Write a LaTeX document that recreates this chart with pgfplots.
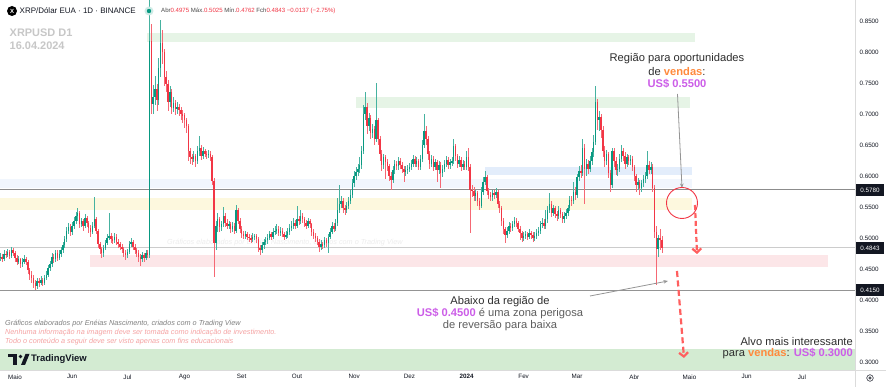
\documentclass[border=0pt]{standalone}
\usepackage{pgfplots}
\pgfplotsset{compat=1.18}
\usepackage{pgfplotstable}
\usepackage{fontspec}
\setmainfont{Liberation Sans}
\usetikzlibrary{arrows.meta}
\definecolor{upc}{HTML}{089981}
\definecolor{dnc}{HTML}{F23645}
\definecolor{tvdark}{HTML}{131722}
\definecolor{lblgray}{HTML}{4A4A4A}
\definecolor{orng}{HTML}{FF8A3D}
\definecolor{viol}{HTML}{CC5DE8}
\definecolor{txt}{HTML}{2E2E2E}
\definecolor{txtb}{HTML}{5E5E5E}
\definecolor{zgreen}{HTML}{E6F4E6}
\definecolor{zgreenb}{HTML}{D3EBD2}
\definecolor{zblue}{HTML}{E3EDFB}
\definecolor{zbluel}{HTML}{F1F6FD}
\definecolor{zyellow}{HTML}{FDF8DE}
\definecolor{zpink}{HTML}{FCE6E8}
\definecolor{disc}{HTML}{F5A3A3}
\definecolor{arred}{HTML}{FF5F5F}

\pgfplotstableread{
d o h l c
-8 .468 .476 .463 .470
-7 .470 .474 .461 .466
-6 .466 .480 .463 .475
-5 .475 .479 .467 .472
-4 .472 .483 .469 .478
-3 .478 .481 .466 .471
-2 .471 .486 .468 .480
-1 .480 .484 .471 .476
0 .476 .479 .462 .468
1 .468 .472 .456 .462
2 .462 .471 .458 .466
3 .466 .468 .452 .458
4 .458 .467 .454 .462
5 .462 .472 .458 .466
6 .466 .470 .456 .462
7 .462 .465 .442 .448
8 .448 .452 .432 .440
9 .440 .446 .428 .436
10 .436 .440 .420 .428
11 .428 .432 .416 .422
12 .422 .436 .417 .430
13 .430 .435 .421 .428
14 .428 .438 .424 .432
15 .432 .436 .422 .428
16 .428 .441 .425 .436
17 .436 .446 .432 .440
18 .440 .457 .437 .452
19 .452 .463 .447 .458
20 .458 .476 .454 .470
21 .470 .474 .460 .466
22 .466 .481 .462 .476
23 .476 .480 .463 .468
24 .468 .480 .464 .474
25 .474 .486 .470 .480
26 .480 .494 .476 .488
27 .488 .504 .484 .498
28 .498 .518 .494 .512
29 .512 .525 .506 .518
30 .518 .522 .504 .510
31 .510 .526 .505 .520
32 .520 .534 .515 .528
33 .528 .542 .522 .535
34 .535 .548 .528 .540
35 .540 .543 .516 .522
36 .522 .533 .517 .528
37 .528 .531 .512 .520
38 .520 .538 .516 .532
39 .532 .536 .518 .524
40 .524 .528 .508 .516
41 .516 .521 .502 .510
42 .510 .526 .506 .520
43 .520 .566 .516 .530
44 .530 .534 .506 .512
45 .512 .515 .484 .490
46 .490 .494 .474 .482
47 .482 .486 .468 .476
48 .476 .489 .470 .484
49 .484 .497 .480 .492
50 .492 .506 .488 .500
51 .500 .540 .496 .504
52 .504 .508 .492 .498
53 .498 .503 .490 .496
54 .496 .508 .492 .502
55 .502 .506 .488 .494
56 .494 .498 .484 .490
57 .490 .494 .480 .486
58 .486 .490 .476 .482
59 .482 .486 .470 .476
60 .476 .480 .465 .472
61 .472 .483 .468 .478
62 .478 .495 .474 .490
63 .490 .500 .486 .494
64 .494 .497 .480 .486
65 .486 .490 .474 .480
66 .480 .484 .470 .476
67 .476 .480 .462 .470
68 .470 .474 .455 .466
69 .466 .477 .462 .472
70 .472 .476 .462 .468
71 .468 .481 .464 .476
72 .476 .480 .467 .472
73 .472 .950 .468 .818
74 .818 .845 .700 .716
75 .716 .746 .700 .728
76 .728 .762 .715 .740
77 .740 .748 .705 .722
78 .722 .790 .715 .775
79 .775 .852 .760 .815
80 .815 .835 .780 .800
81 .800 .805 .745 .760
82 .760 .770 .735 .748
83 .748 .755 .705 .720
84 .720 .745 .712 .735
85 .735 .740 .700 .710
86 .710 .728 .703 .718
87 .718 .722 .698 .708
88 .708 .720 .700 .712
89 .712 .716 .696 .706
90 .706 .712 .690 .700
91 .700 .706 .685 .698
92 .698 .702 .678 .690
93 .690 .694 .670 .680
94 .680 .684 .625 .640
95 .640 .645 .620 .630
96 .630 .636 .618 .628
97 .628 .640 .622 .632
98 .632 .636 .615 .625
99 .625 .648 .620 .640
100 .640 .665 .632 .645
101 .645 .650 .626 .632
102 .632 .646 .628 .640
103 .640 .644 .630 .636
104 .636 .641 .628 .634
105 .634 .642 .629 .636
106 .636 .640 .624 .630
107 .630 .634 .585 .592
108 .592 .596 .437 .492
109 .492 .528 .480 .520
110 .520 .540 .510 .530
111 .530 .534 .510 .518
112 .518 .528 .512 .522
113 .522 .550 .518 .535
114 .535 .540 .518 .525
115 .525 .530 .514 .520
116 .520 .528 .514 .522
117 .522 .526 .508 .515
118 .515 .526 .509 .520
119 .520 .524 .506 .512
120 .512 .553 .508 .545
121 .545 .548 .522 .528
122 .528 .532 .508 .515
123 .515 .519 .500 .506
124 .506 .511 .498 .504
125 .504 .512 .499 .506
126 .506 .510 .496 .502
127 .502 .507 .494 .500
128 .500 .505 .492 .498
129 .498 .508 .493 .502
130 .502 .507 .496 .503
131 .503 .506 .492 .498
132 .498 .502 .478 .484
133 .484 .488 .472 .480
134 .480 .493 .476 .488
135 .488 .499 .483 .494
136 .494 .502 .489 .496
137 .496 .506 .491 .500
138 .500 .512 .496 .506
139 .506 .510 .497 .502
140 .502 .516 .498 .510
141 .510 .519 .505 .512
142 .512 .522 .507 .515
143 .515 .519 .503 .508
144 .508 .517 .503 .512
145 .512 .516 .501 .506
146 .506 .510 .497 .502
147 .502 .511 .498 .505
148 .505 .516 .500 .510
149 .510 .522 .505 .516
150 .516 .527 .511 .520
151 .520 .532 .515 .525
152 .525 .529 .514 .520
153 .520 .552 .516 .530
154 .530 .536 .521 .528
155 .528 .545 .522 .536
156 .536 .540 .524 .530
157 .530 .534 .518 .524
158 .524 .529 .514 .520
159 .520 .533 .516 .528
160 .528 .531 .516 .522
161 .522 .525 .504 .510
162 .510 .514 .498 .504
163 .504 .508 .494 .500
164 .500 .504 .488 .494
165 .494 .498 .478 .486
166 .486 .496 .481 .490
167 .490 .494 .482 .488
168 .488 .501 .484 .496
169 .496 .500 .486 .492
170 .492 .507 .476 .502
171 .502 .516 .498 .510
172 .510 .526 .506 .520
173 .520 .524 .509 .515
174 .515 .530 .511 .524
175 .524 .565 .520 .545
176 .545 .585 .540 .555
177 .555 .568 .548 .560
178 .560 .564 .540 .548
179 .548 .553 .537 .545
180 .545 .558 .540 .552
181 .552 .566 .547 .560
182 .560 .577 .555 .570
183 .570 .595 .565 .588
184 .588 .608 .582 .600
185 .600 .614 .594 .606
186 .606 .620 .600 .612
187 .612 .630 .605 .618
188 .618 .648 .612 .640
189 .640 .715 .635 .700
190 .700 .735 .690 .712
191 .712 .718 .668 .680
192 .680 .702 .672 .694
193 .694 .698 .660 .670
194 .670 .684 .662 .676
195 .676 .680 .650 .660
196 .660 .750 .655 .690
197 .690 .694 .650 .660
198 .660 .664 .625 .636
199 .636 .642 .608 .618
200 .618 .636 .612 .630
201 .630 .634 .595 .622
202 .622 .628 .608 .616
203 .616 .620 .592 .600
204 .600 .606 .578 .594
205 .594 .616 .588 .610
206 .610 .626 .604 .620
207 .620 .625 .609 .616
208 .616 .631 .610 .625
209 .625 .629 .612 .618
210 .618 .622 .605 .612
211 .612 .616 .590 .606
212 .606 .616 .600 .610
213 .610 .618 .604 .612
214 .612 .621 .606 .615
215 .615 .626 .609 .620
216 .620 .634 .614 .628
217 .628 .632 .614 .620
218 .620 .631 .614 .625
219 .625 .628 .609 .615
220 .615 .634 .610 .628
221 .628 .658 .622 .650
222 .650 .700 .645 .672
223 .672 .680 .650 .660
224 .660 .664 .626 .635
225 .635 .640 .612 .620
226 .620 .634 .614 .628
227 .628 .632 .608 .615
228 .615 .628 .609 .622
229 .622 .626 .590 .610
230 .610 .624 .603 .618
231 .618 .622 .580 .605
232 .605 .618 .598 .612
233 .612 .626 .606 .620
234 .620 .632 .614 .626
235 .626 .630 .612 .618
236 .618 .628 .612 .622
237 .622 .630 .616 .624
238 .624 .660 .620 .648
239 .648 .652 .625 .632
240 .632 .636 .613 .620
241 .620 .632 .614 .626
242 .626 .630 .608 .614
243 .614 .626 .609 .620
244 .620 .624 .609 .615
245 .615 .640 .610 .630
246 .630 .645 .608 .615
247 .615 .620 .508 .578
248 .578 .586 .566 .576
249 .576 .582 .560 .568
250 .568 .578 .560 .572
251 .572 .576 .552 .560
252 .560 .565 .545 .552
253 .552 .582 .548 .575
254 .575 .598 .570 .590
255 .590 .608 .585 .598
256 .598 .602 .570 .576
257 .576 .580 .563 .570
258 .570 .575 .560 .566
259 .566 .578 .560 .572
260 .572 .577 .563 .570
261 .570 .581 .565 .575
262 .575 .578 .548 .555
263 .555 .560 .540 .548
264 .548 .552 .520 .528
265 .528 .532 .506 .514
266 .514 .518 .492 .505
267 .505 .518 .500 .512
268 .512 .526 .506 .520
269 .520 .524 .510 .516
270 .516 .528 .511 .522
271 .522 .534 .517 .528
272 .528 .532 .518 .524
273 .524 .528 .509 .515
274 .515 .519 .496 .508
275 .508 .512 .494 .500
276 .500 .510 .495 .504
277 .504 .512 .499 .506
278 .506 .510 .496 .502
279 .502 .514 .498 .508
280 .508 .512 .499 .505
281 .505 .509 .494 .500
282 .500 .509 .495 .504
283 .504 .514 .499 .508
284 .508 .518 .503 .512
285 .512 .528 .507 .522
286 .522 .532 .516 .525
287 .525 .530 .514 .520
288 .520 .545 .515 .530
289 .530 .552 .525 .545
290 .545 .572 .540 .555
291 .555 .560 .534 .540
292 .540 .554 .535 .548
293 .548 .552 .532 .538
294 .538 .544 .528 .535
295 .535 .551 .530 .545
296 .545 .549 .532 .538
297 .538 .542 .524 .530
298 .530 .542 .525 .536
299 .536 .546 .530 .540
300 .540 .554 .535 .548
301 .548 .568 .543 .562
302 .562 .568 .552 .560
303 .560 .590 .555 .575
304 .575 .582 .562 .570
305 .570 .604 .565 .598
306 .598 .616 .592 .608
307 .608 .618 .596 .605
308 .605 .660 .600 .645
309 .645 .652 .555 .612
310 .612 .628 .600 .620
311 .620 .626 .604 .612
312 .612 .632 .606 .625
313 .625 .645 .618 .638
314 .638 .666 .630 .655
315 .655 .745 .650 .720
316 .720 .725 .675 .690
317 .690 .705 .672 .695
318 .695 .700 .662 .675
319 .675 .680 .630 .640
320 .640 .648 .615 .625
321 .625 .642 .618 .635
322 .635 .638 .596 .605
323 .605 .610 .575 .585
324 .585 .645 .580 .640
325 .640 .645 .615 .625
326 .625 .630 .602 .610
327 .610 .620 .600 .612
328 .612 .635 .606 .628
329 .628 .650 .622 .640
330 .640 .645 .625 .632
331 .632 .638 .612 .620
332 .620 .636 .614 .630
333 .630 .634 .618 .625
334 .625 .634 .618 .628
335 .628 .632 .608 .615
336 .615 .618 .592 .600
337 .600 .604 .575 .585
338 .585 .596 .578 .590
339 .590 .594 .570 .580
340 .580 .594 .574 .588
341 .588 .601 .582 .595
342 .595 .606 .588 .600
343 .600 .640 .595 .618
344 .618 .624 .603 .610
345 .610 .622 .604 .615
346 .615 .620 .575 .580
347 .580 .585 .500 .510
348 .510 .520 .425 .482
349 .482 .505 .470 .500
350 .500 .515 .480 .4975
351 .4975 .5025 .4762 .4843
}\candles

\begin{document}
\begin{tikzpicture}
\useasboundingbox (0bp,0bp) rectangle (886bp,387bp);
\fill[white] (0bp,0bp) rectangle (886bp,387bp);
\begin{axis}[
  at={(0bp,17bp)}, anchor=south west,
  width=855bp, height=370bp, scale only axis,
  xmin=-8.14, xmax=455.8, ymin=0.2871, ymax=0.8839,
  axis x line*=bottom, axis y line*=right,
  axis line style={draw=black!14, line width=0.7bp},
  major tick length=0pt,
  /pgf/number format/assume math mode=true,
  xtick={0,31,61,92,123,153,184,214,245,276,305,336,366,397,427},
  xticklabels={Maio,Jun,Jul,Ago,Set,Out,Nov,Dez,\textbf{2024},Fev,Mar,Abr,Maio,Jun,Jul},
  xticklabel style={font=\fontsize{6.3}{7}\selectfont, text=tvdark, yshift=-1bp},
  ytick={0.30,0.35,0.40,0.45,0.50,0.55,0.60,0.65,0.70,0.75,0.80,0.85},
  yticklabel style={/pgf/number format/.cd, fixed, fixed zerofill, precision=4, /tikz/.cd, font=\fontsize{6.3}{7}\selectfont, text=tvdark, anchor=west, xshift=1bp},
  clip=true,
  candle/.style={draw=none, mark=none, forget plot},
]
% zones
\fill[zgreenb] (axis cs:-8.14,0.2871) rectangle (axis cs:455.8,0.321);
\fill[zgreen] (axis cs:71.6,0.816) rectangle (axis cs:369,0.831);
\fill[zgreen] (axis cs:185,0.710) rectangle (axis cs:366,0.727);
\fill[zbluel] (axis cs:-8.14,0.581) rectangle (axis cs:367.3,0.595);
\fill[zblue] (axis cs:255,0.602) rectangle (axis cs:367.3,0.615);
\fill[zyellow] (axis cs:-8.14,0.545) rectangle (axis cs:367.3,0.565);
\fill[zpink] (axis cs:40.7,0.453) rectangle (axis cs:441,0.473);
\node[anchor=west, font=\itshape\fontsize{7.3}{8}\selectfont, text=black!7, inner sep=0] at (axis cs:82.5,0.492) {Gráficos elaborados por Enéias Nascimento, criados com o Trading View};
% horizontal lines
\draw[black!45, line width=0.9bp] (axis cs:-8.14,0.578) -- (axis cs:455.8,0.578);
\draw[black!20, line width=0.9bp] (axis cs:-8.14,0.4843) -- (axis cs:455.8,0.4843);
\draw[black!42, line width=0.9bp] (axis cs:-8.14,0.415) -- (axis cs:455.8,0.415);
% wicks
\addplot[candle, restrict expr to domain={\thisrow{c}-\thisrow{o}}{0:1},
  error bars/.cd, y dir=both, y explicit, error mark=none,
  error bar style={draw=upc!75, line width=0.55bp}]
  table[x=d, y expr={(\thisrow{h}+\thisrow{l})/2}, y error expr={(\thisrow{h}-\thisrow{l})/2}] {\candles};
\addplot[candle, restrict expr to domain={\thisrow{o}-\thisrow{c}}{0.000001:1},
  error bars/.cd, y dir=both, y explicit, error mark=none,
  error bar style={draw=dnc!75, line width=0.55bp}]
  table[x=d, y expr={(\thisrow{h}+\thisrow{l})/2}, y error expr={(\thisrow{h}-\thisrow{l})/2}] {\candles};
% bodies
\addplot[candle, restrict expr to domain={\thisrow{c}-\thisrow{o}}{0:1},
  error bars/.cd, y dir=both, y explicit, error mark=none,
  error bar style={draw=upc, line width=1.45bp}]
  table[x=d, y expr={(\thisrow{o}+\thisrow{c})/2}, y error expr={abs(\thisrow{c}-\thisrow{o})/2}] {\candles};
\addplot[candle, restrict expr to domain={\thisrow{o}-\thisrow{c}}{0.000001:1},
  error bars/.cd, y dir=both, y explicit, error mark=none,
  error bar style={draw=dnc, line width=1.45bp}]
  table[x=d, y expr={(\thisrow{o}+\thisrow{c})/2}, y error expr={abs(\thisrow{c}-\thisrow{o})/2}] {\candles};
\end{axis}

\begin{scope}[shift={(0bp,387bp)}, x=1bp, y=-1bp]
% axis extras
\draw[black!14, line width=0.7bp] (855,370) -- (855,387);
\draw[black!14, line width=0.7bp] (855,370) -- (886,370);
\draw[tvdark, line width=0.5bp] (870,378) circle (3.3);
\draw[tvdark, line width=0.5bp] (870,378) circle (1.3);
% price boxes
\foreach \yy/\tt in {190/0.5780, 248/0.4843, 290/0.4150}{
  \fill[tvdark] (856,\yy-5.8) rectangle (884,\yy+5.8);
  \node[font=\fontsize{6.3}{7}\selectfont, text=white, inner sep=0] at (870,\yy) {\tt};
}
% header
\fill[black] (12,11) circle (5);
\node[font=\bfseries\fontsize{6}{6}\selectfont, text=white, inner sep=0] at (12,11) {X};
\node[anchor=west, font=\fontsize{8}{9}\selectfont, text=tvdark, inner sep=0] at (19.5,11) {XRP/Dólar EUA · 1D · BINANCE};
\fill[upc!20] (149,11) circle (4.5);
\fill[upc] (149,11) circle (2.2);
\node[anchor=west, font=\fontsize{6.1}{7}\selectfont, inner sep=0] at (161,11) {\textcolor{lblgray}{Abr}\textcolor{dnc}{0.4975} \textcolor{lblgray}{Máx.}\textcolor{dnc}{0.5025} \textcolor{lblgray}{Mín.}\textcolor{dnc}{0.4762} \textcolor{lblgray}{Fch}\textcolor{dnc}{0.4843 −0.0137 (−2.75\%)}};
\node[anchor=west, font=\bfseries\fontsize{11}{12}\selectfont, text=black!22, inner sep=0] at (9.5,33) {XRPUSD D1};
\node[anchor=west, font=\bfseries\fontsize{11}{12}\selectfont, text=black!22, inner sep=0] at (9.5,46) {16.04.2024};
% annotations top right
\node[font=\fontsize{11.2}{12}\selectfont, text=txt, inner sep=0] at (677,59) {Região para oportunidades};
\node[font=\fontsize{11.2}{12}\selectfont, text=txt, inner sep=0] at (677,72) {de \textbf{\textcolor{orng}{vendas}}:};
\node[font=\bfseries\fontsize{11.2}{12}\selectfont, text=viol, inner sep=0] at (677,84) {US\$ 0.5500};
\draw[black!42, line width=0.8bp, -{Stealth[length=4.5bp,width=3.5bp]}] (677.5,94) -- (682,188);
% circle and red arrows
\draw[dnc, line width=0.9bp] (682,203) circle (15.5);
\draw[arred, line width=2.2bp, dash pattern=on 5bp off 3bp, -{Straight Barb[length=4bp,width=9bp]}] (695,205) -- (697,254);
\draw[arred, line width=2.2bp, dash pattern=on 6bp off 3.5bp, -{Straight Barb[length=4bp,width=9bp]}] (677,271) -- (684,358);
% lower annotation
\draw[black!42, line width=0.8bp, -{Stealth[length=4.5bp,width=3.5bp]}] (590,296) -- (668,281);
\node[font=\fontsize{11.2}{12}\selectfont, text=txt, inner sep=0] at (500,302) {Abaixo da região de};
\node[font=\fontsize{11.2}{12}\selectfont, text=txtb, inner sep=0] at (500,314) {\textbf{\textcolor{viol}{US\$ 0.4500}} é uma zona perigosa};
\node[font=\fontsize{11.2}{12}\selectfont, text=txtb, inner sep=0] at (500,326) {de reversão para baixa};
% target annotation
\node[anchor=east, font=\fontsize{11.2}{12}\selectfont, text=txt, inner sep=0] at (853,342) {Alvo mais interessante};
\node[anchor=east, font=\fontsize{11.2}{12}\selectfont, text=txt, inner sep=0] at (853,354) {para \textbf{\textcolor{orng}{vendas}}: \textbf{\textcolor{viol}{US\$ 0.3000}}};
% disclaimer
\node[anchor=west, font=\itshape\fontsize{7.3}{8}\selectfont, text=black!50, inner sep=0] at (5,324) {Gráficos elaborados por Enéias Nascimento, criados com o Trading View};
\node[anchor=west, font=\itshape\fontsize{7.3}{8}\selectfont, text=disc, inner sep=0] at (5,333) {Nenhuma informação na imagem deve ser tomada como indicação de investimento.};
\node[anchor=west, font=\itshape\fontsize{7.3}{8}\selectfont, text=disc, inner sep=0] at (5,341.5) {Todo o conteúdo a seguir deve ser visto apenas com fins educacionais};
% TradingView logo
\fill[tvdark] (8,354) rectangle (17,357.5);
\fill[tvdark] (13,354) rectangle (17,365);
\fill[tvdark] (20.5,356.5) circle (1.8);
\fill[tvdark] (21,365) -- (25.5,354) -- (29.5,354) -- (25,365) -- cycle;
\node[anchor=west, font=\bfseries\fontsize{9.5}{10}\selectfont, text=tvdark, inner sep=0] at (31,359.5) {TradingView};
\end{scope}
\end{tikzpicture}
\end{document}
